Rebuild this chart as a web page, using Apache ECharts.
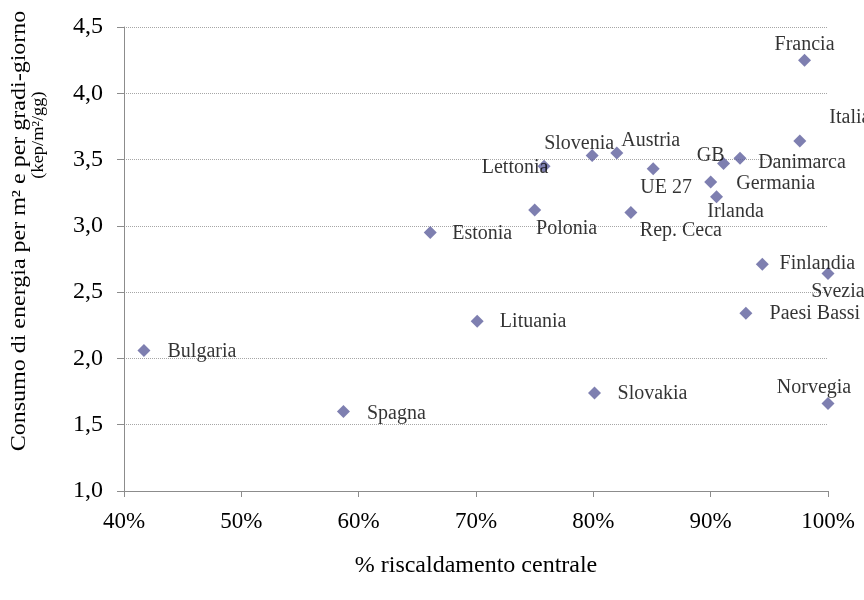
<!DOCTYPE html>
<html>
<head>
<meta charset="utf-8">
<script src="https://cdn.jsdelivr.net/npm/echarts@6/dist/echarts.min.js"></script>
<style>
  html, body { margin: 0; padding: 0; background: #fff; }
  #chart { width: 864px; height: 600px; }
</style>
</head>
<body>
<div id="chart"></div>
<script>
// Countries and their values: share of central heating (%) vs energy use per m² per degree-day
const countries = ['Francia', 'Italia', 'Slovenia', 'Austria', 'Lettonia', 'UE 27', 'GB', 'Danimarca',
  'Germania', 'Irlanda', 'Polonia', 'Rep. Ceca', 'Estonia', 'Lituania', 'Bulgaria', 'Spagna',
  'Finlandia', 'Svezia', 'Paesi Bassi', 'Slovakia', 'Norvegia'];
const centralHeating = [98.0, 97.6, 79.9, 82.0, 75.8, 85.1, 91.1, 92.5,
  90.0, 90.5, 75.0, 83.2, 66.1, 70.1, 41.7, 58.7,
  94.4, 100.0, 93.0, 80.1, 100.0];
const energyUse = [4.25, 3.64, 3.53, 3.55, 3.45, 3.43, 3.47, 3.51,
  3.33, 3.22, 3.12, 3.10, 2.95, 2.28, 2.06, 1.60,
  2.71, 2.64, 2.34, 1.74, 1.66];

// Axis ticks
const xTicks = [40, 50, 60, 70, 80, 90, 100];
const yTicks = [1.0, 1.5, 2.0, 2.5, 3.0, 3.5, 4.0, 4.5];

// Where each country's name sits relative to its marker (pixels)
const labelOffsets = {
  'Francia': [0, -15], 'Italia': [50, -23], 'Slovenia': [-13, -12], 'Austria': [34, -12],
  'Lettonia': [-29, 2], 'UE 27': [13, 19], 'GB': [-13, -8], 'Danimarca': [62, 5],
  'Germania': [65, 2], 'Irlanda': [19, 15], 'Polonia': [32, 19], 'Rep. Ceca': [50, 18],
  'Estonia': [52, 1], 'Lituania': [56, 0], 'Bulgaria': [58, 1], 'Spagna': [53, 2],
  'Finlandia': [55, -1], 'Svezia': [10, 18], 'Paesi Bassi': [69, 0], 'Slovakia': [58, 1],
  'Norvegia': [-14, -16]
};

const FONT = 'Liberation Serif, Times New Roman, serif';
const axisGrey = '#8c8c8c';

const points = countries.map((name, i) => ({
  name: name,
  value: [centralHeating[i], energyUse[i]],
  label: { offset: labelOffsets[name] }
}));

const chart = echarts.init(document.getElementById('chart'), null, { renderer: 'canvas' });
chart.setOption({
  animation: false,
  backgroundColor: '#ffffff',
  grid: { left: 124, right: 36, top: 27, bottom: 109, containLabel: false },
  xAxis: {
    type: 'value',
    min: xTicks[0],
    max: xTicks[xTicks.length - 1],
    interval: xTicks[1] - xTicks[0],
    name: '% riscaldamento centrale',
    nameLocation: 'middle',
    nameGap: 63,
    nameTextStyle: { fontFamily: FONT, fontSize: 24, color: '#000' },
    axisLine: { show: true, onZero: false, lineStyle: { color: axisGrey, width: 1 } },
    axisTick: { show: true, length: 6, lineStyle: { color: axisGrey } },
    axisLabel: {
      fontFamily: FONT, fontSize: 23, color: '#000', margin: 19,
      formatter: v => v + '%'
    },
    splitLine: { show: false }
  },
  yAxis: {
    type: 'value',
    min: yTicks[0],
    max: yTicks[yTicks.length - 1],
    interval: yTicks[1] - yTicks[0],
    axisLine: { show: true, onZero: false, lineStyle: { color: axisGrey, width: 1 } },
    axisTick: { show: true, length: 7, lineStyle: { color: axisGrey } },
    axisLabel: {
      fontFamily: FONT, fontSize: 24, color: '#000', margin: 21,
      formatter: v => v.toFixed(1).replace('.', ',')
    },
    splitLine: { show: true, lineStyle: { color: '#a6a6a6', type: [1, 1], width: 1 } }
  },
  graphic: [
    {
      // vertical axis title, first line (stretched along its reading direction)
      type: 'text', x: 20, y: 231, rotation: Math.PI / 2, scaleX: 1.2,
      style: {
        text: 'Consumo di energia per m² e per gradi-giorno',
        fontFamily: FONT, fontSize: 20, fill: '#000',
        align: 'center', verticalAlign: 'middle'
      }
    },
    {
      type: 'text', x: 39, y: 135, rotation: Math.PI / 2, scaleX: 1.15,
      style: {
        text: '(kep/m²/gg)',
        fontFamily: FONT, fontSize: 16, fill: '#000',
        align: 'center', verticalAlign: 'middle'
      }
    }
  ],
  series: [{
    type: 'scatter',
    symbol: 'diamond',
    symbolSize: 13,
    clip: false,
    itemStyle: { color: '#5e5f9c' },
    label: {
      show: true,
      position: 'inside',
      formatter: p => p.name,
      fontFamily: FONT, fontSize: 20, color: '#000',
      align: 'center', verticalAlign: 'middle'
    },
    data: points
  }]
});
</script>
</body>
</html>
